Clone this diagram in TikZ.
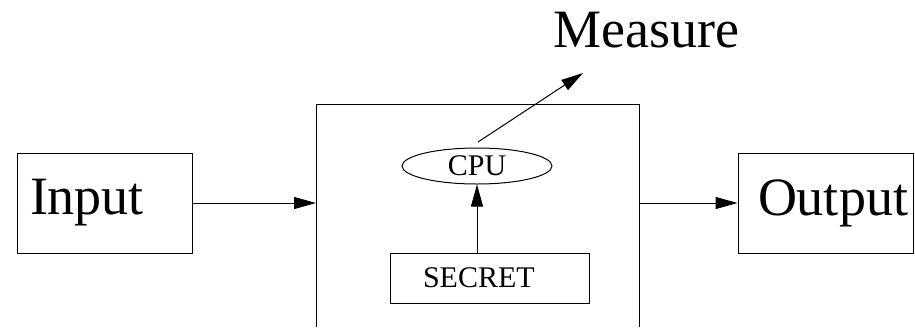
\documentclass[tikz,border=0pt]{standalone}
\usepackage{fontspec}
\setmainfont{Liberation Serif}
\usetikzlibrary{arrows.meta,shapes.geometric,calc}
\begin{document}
\begin{tikzpicture}[x=1pt,y=-1pt,
  line width=1pt,
  big/.style={font=\fontsize{54}{60}\selectfont},
  small/.style={font=\fontsize{30}{34}\selectfont},
  iobox/.style={draw,rectangle,big,minimum height=100pt,align=left},
  arr/.style={-{Triangle[length=22pt,width=12pt]}}]
  \useasboundingbox (0,0) rectangle (915,327);

  % input and output blocks
  \node[iobox,text width=149pt,inner xsep=13pt] (in) at (104.5,203) {Input};
  \node[iobox,text width=135pt,inner xsep=20pt] (out) at (825.5,203) {Output};

  % the system box, open at the bottom
  \draw (316,327) -- (316,104) -- (639,104) -- (639,327);
  \coordinate (sysW) at (316,203);
  \coordinate (sysE) at (639,203);

  % contents of the system
  \node[draw,ellipse,small,minimum width=150pt,minimum height=36pt,inner sep=0pt] (cpu) at (477,166) {CPU};
  \node[draw,rectangle,small,minimum height=50pt,text width=133pt,inner xsep=33pt,align=left] (secret) at (489.5,278) {SECRET};

  % measurement output
  \node[big,anchor=base] (measure) at (646.5,47) {Measure};
  \coordinate (mstart) at (478,142);
  \coordinate (mtip) at (583,73);

  % connectors
  \draw[arr] (in.east) -- (sysW);
  \draw[arr] (sysE) -- (out.west);
  \draw[arr] (cpu.south |- secret.north) -- (cpu.south);
  \draw[arr] (mstart) -- (mtip);
\end{tikzpicture}
\end{document}
